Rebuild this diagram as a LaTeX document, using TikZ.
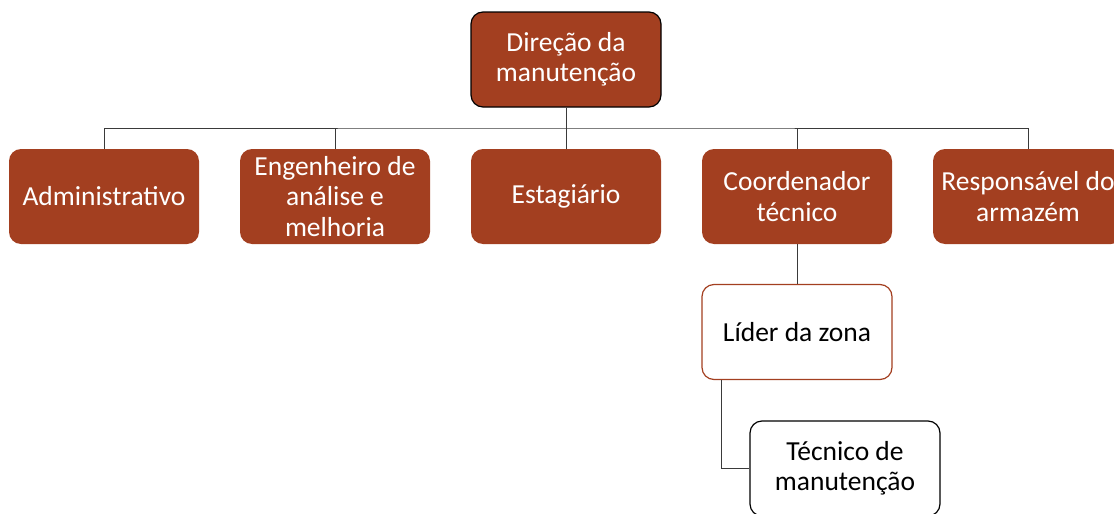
\documentclass[tikz,border=0pt]{standalone}
\usepackage{fontspec}
\setmainfont{Carlito}
\definecolor{rust}{HTML}{A33F20}
\definecolor{conn}{HTML}{3A3A3A}
\begin{document}
\begin{tikzpicture}[x=1pt,y=-1pt,
  box/.style={rectangle,rounded corners=12pt,minimum width=190pt,minimum height=95pt,
    inner sep=0pt,align=center,font=\fontsize{27.5}{30.5}\selectfont},
  filled/.style={box,fill=rust,text=white},
  link/.style={draw=conn,line width=1pt}]
\useasboundingbox (0,0) rectangle (1114,514);
\clip (0,0) rectangle (1114,514);
\node[filled,draw=black,line width=1.2pt] (top) at (566,59.5) {Direção da\\manutenção};
\node[filled] (adm) at (104,196.5) {Administrativo};
\node[filled] (eng) at (335,196.5) {Engenheiro de\\análise e\\melhoria};
\node[filled] (est) at (566,196.5) {Estagiário};
\node[filled] (coo) at (797,196.5) {Coordenador\\técnico};
\node[filled] (res) at (1028,196.5) {Responsável do\\armazém};
\node[box,draw=rust,line width=1.2pt,fill=white] (lid) at (797,332) {Líder da zona};
\node[box,draw=black,line width=1.2pt,fill=white] (tec) at (845,468.5) {Técnico de\\manutenção};
\coordinate (bar) at (566,128);
\draw[link] (top.south) -- (bar);
\draw[link] (adm.north) |- (bar) -| (res.north);
\foreach \n in {eng,est,coo} \draw[link] (\n.north) -- (\n.north |- bar);
\draw[link] (coo.south) -- (lid.north);
\draw[link] ([xshift=20pt]lid.south west) |- (tec.west);
\end{tikzpicture}
\end{document}
